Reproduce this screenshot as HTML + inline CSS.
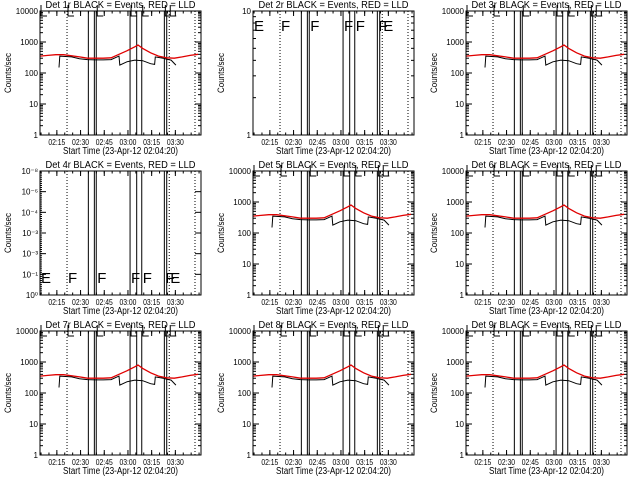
<!DOCTYPE html>
<html><head><meta charset="utf-8"><style>
html,body{margin:0;padding:0;background:#fff;}
svg{display:block;font-family:"Liberation Sans",sans-serif;}
</style></head><body>
<svg id="c" width="640" height="480" xmlns="http://www.w3.org/2000/svg">
<rect x="0" y="0" width="640" height="480" fill="#fff"/>
</svg>
<script>
// data: time in minutes since 02:04:20
const tickLabels = ["02:15","02:30","02:45","03:00","03:15","03:30"];
const tickTimes = [10.67,25.67,40.67,55.67,70.67,85.67];
const solidLineTimes = [30.6,34.4,35.6,57,61.2,64.4,78.7,80.2];
const dottedLineTimes = [17.1,81.8,98.1];
const redTimes = [0,5,10,15,20,25,30,35,40,45,50,55,60,62,65,70,75,80,85,90,95,100];
const redValues = [350,370,390,390,360,330,300,300,300,310,400,520,700,800,620,450,350,310,300,330,370,400];
const blackTimes = [12,12.5,20,25,30,35,40,45,50,50.5,55,60,65,70,72.5,73,78,80,83,86];
const blackValues = [150,350,330,290,270,265,265,270,350,180,230,260,250,200,190,330,300,280,260,180];
const flagLetters = ["E","F","F","F","F","F","E"];
const flagTimes = [0,17.1,35.6,57,64.4,78.7,81.8];
const detNames = ["1r","2r","3r","4r","5r","6r","7r","8r","9r"];

const NS="http://www.w3.org/2000/svg";
const svg=document.getElementById('c');
function mk(tag,attrs,parent){const e=document.createElementNS(NS,tag);for(const k in attrs)e.setAttribute(k,attrs[k]);(parent||svg).appendChild(e);return e;}
const PX0=40,PX1=201,PY0=11,PY1=135,TMAX=(PX1-PX0)/1.58;

function panel(idx){
  const ox=(idx%3)*213, oy=Math.floor(idx/3)*160;
  const g=mk('g',{transform:`translate(${ox},${oy})`});
  
  
  const xs=t=>PX0+t*(PX1-PX0)/TMAX;
  let ys, yTicks=[], yMinor=[];
  const mode = idx===1?'two':(idx===3?'weird':'log');
  if(mode==='log'){
    ys=v=>PY1-(PY1-PY0)*Math.log10(v)/4;
    [1,10,100,1000,10000].forEach(v=>yTicks.push([v,String(v)]));
    for(let d=0;d<4;d++)for(let m=2;m<10;m++)yMinor.push(m*Math.pow(10,d));
  } else if(mode==='two'){
    ys=v=>PY1-(PY1-PY0)*Math.log10(v);
    yTicks=[[1,'1'],[10,'10']];
    for(let m=2;m<10;m++)yMinor.push(m);
  } else {
    ys=v=>PY1-(PY1-PY0)*v/6;
    const labs=['10\u2070','10\u207B\u00B9','10\u207B\u00B3','10\u207B\u00B3','10\u207B\u2074','10\u207B\u2076','10\u207B\u2078'];
    for(let i=0;i<7;i++)yTicks.push([i,labs[i]]);
  }
  const ti=mk('text',{x:(PX0+PX1)/2,y:8,'text-anchor':'middle','font-size':10,textLength:150,lengthAdjust:'spacingAndGlyphs'},g);
  ti.textContent='Det '+detNames[idx]+' BLACK = Events, RED = LLD';
  
  
  solidLineTimes.forEach(t=>{const l=mk('line',{x1:xs(t),x2:xs(t),y1:PY0,y2:PY1,stroke:'#000','stroke-width':1},g);
    
    });
  dottedLineTimes.forEach(t=>{const l=mk('line',{x1:xs(t),x2:xs(t),y1:PY0,y2:PY1,stroke:'#000','stroke-width':1,'stroke-dasharray':'1,2'},g);
    
    });
  if(mode==='log'){
    const rp=redTimes.map((t,i)=>xs(t).toFixed(1)+','+ys(redValues[i]).toFixed(1)).join(' ');
    const r=mk('polyline',{points:rp,fill:'none',stroke:'#e00000','stroke-width':1.3},g);
    
    
    const bp=blackTimes.map((t,i)=>xs(t).toFixed(1)+','+ys(blackValues[i]).toFixed(1)).join(' ');
    const b=mk('polyline',{points:bp,fill:'none',stroke:'#000','stroke-width':1},g);
    
    
    flagTimes.forEach(t=>{const p=mk('polyline',{points:`${xs(t)+1},${PY0-6} ${xs(t)+1},${PY0+5} ${xs(t)+7},${PY0+5}`,fill:'none',stroke:'#000','stroke-width':1},g);
      
      });
  } else {
    const fy = mode==='two'?PY0+20:PY1-12;
    flagTimes.forEach((t,i)=>{const e=mk('text',{x:xs(t)+1,y:fy,'font-size':15},g);
      e.textContent=flagLetters[i];
      
      });
  }
  const box=mk('rect',{x:PX0,y:PY0,width:PX1-PX0,height:PY1-PY0,fill:'none',stroke:'#000','stroke-width':1},g);
  
  
  yTicks.forEach(([v,lab])=>{const y=ys(v);
    mk('line',{x1:PX0,x2:PX0+6,y1:y,y2:y,stroke:'#000'},g);
    mk('line',{x1:PX1-6,x2:PX1,y1:y,y2:y,stroke:'#000'},g);
    const t=mk('text',{x:PX0-2,y:y+3,'text-anchor':'end','font-size':8},g);t.textContent=lab;
    
    });
  if(mode!=='weird')yMinor.forEach(v=>{const y=ys(v);
    mk('line',{x1:PX0,x2:PX0+3,y1:y,y2:y,stroke:'#000'},g);
    mk('line',{x1:PX1-3,x2:PX1,y1:y,y2:y,stroke:'#000'},g);});
  else for(let i=0;i<60;i++){const y=PY1-(PY1-PY0)*i/60;mk('line',{x1:PX0,x2:PX0+2,y1:y,y2:y,stroke:'#000'},g);}
  tickTimes.forEach((tt,i)=>{const x=xs(tt);
    mk('line',{x1:x,x2:x,y1:PY1,y2:PY1-5,stroke:'#000'},g);
    mk('line',{x1:x,x2:x,y1:PY0,y2:PY0+5,stroke:'#000'},g);
    const t=mk('text',{x:x,y:PY1+10,'text-anchor':'middle','font-size':8,textLength:17,lengthAdjust:'spacingAndGlyphs'},g);t.textContent=tickLabels[i];
    
    });
  for(let tt=0.67;tt<TMAX;tt+=5){const x=xs(tt);mk('line',{x1:x,x2:x,y1:PY1,y2:PY1-2.5,stroke:'#000'},g);mk('line',{x1:x,x2:x,y1:PY0,y2:PY0+2.5,stroke:'#000'},g);}
  const xl=mk('text',{x:(PX0+PX1)/2,y:PY1+19,'text-anchor':'middle','font-size':10,textLength:115,lengthAdjust:'spacingAndGlyphs'},g);
  xl.textContent='Start Time (23-Apr-12 02:04:20)';
  
  
  const yl=mk('text',{x:0,y:0,'text-anchor':'middle','font-size':9,textLength:40,lengthAdjust:'spacingAndGlyphs',transform:`translate(11,${(PY0+PY1)/2}) rotate(-90)`},g);
  yl.textContent='Counts/sec';
  
  
}
for(let i=0;i<9;i++)panel(i);
</script>
</body></html>
